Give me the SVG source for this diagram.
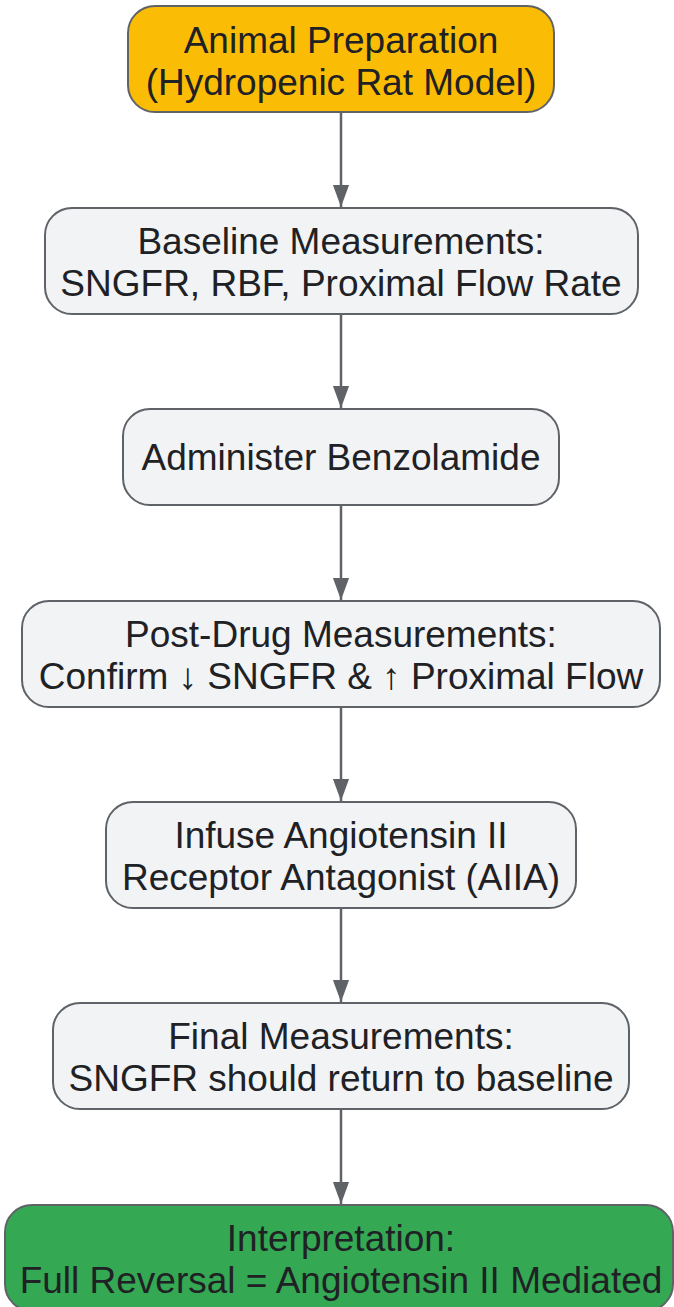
<svg xmlns="http://www.w3.org/2000/svg" width="674" height="1307" viewBox="0 0 674 1307">
<style>
.box{fill:#f1f3f4;stroke:#5f6368;stroke-width:2}
.t{font-family:"Liberation Sans",Arial,sans-serif;font-size:37px;fill:#202124;text-anchor:middle}
.edge{stroke:#5f6368;stroke-width:2.5;fill:none}
</style>
<defs>
<marker id="ah" markerWidth="22" markerHeight="30" refX="30" refY="11" viewBox="0 0 30 22" markerUnits="userSpaceOnUse" orient="auto">
<path d="M0,0 L30,11 L0,22 Z" fill="#5f6368"/>
</marker>
</defs>
<g id="connectors">
<line class="edge" x1="341" y1="112" x2="341" y2="207" marker-end="url(#ah)"/>
<line class="edge" x1="341" y1="314" x2="341" y2="408" marker-end="url(#ah)"/>
<line class="edge" x1="341" y1="505" x2="341" y2="600" marker-end="url(#ah)"/>
<line class="edge" x1="341" y1="707" x2="341" y2="801" marker-end="url(#ah)"/>
<line class="edge" x1="341" y1="908" x2="341" y2="1002" marker-end="url(#ah)"/>
<line class="edge" x1="341" y1="1109" x2="341" y2="1204" marker-end="url(#ah)"/>
</g>
<g id="n1">
<rect class="box" x="128" y="6" width="426" height="106" rx="27" style="fill:#fbbc05"/>
<text class="t" x="341" y="53">Animal Preparation</text>
<text class="t" x="341" y="95">(Hydropenic Rat Model)</text>
</g>
<g id="n2">
<rect class="box" x="45" y="208" width="593" height="106" rx="27"/>
<text class="t" x="341" y="254">Baseline Measurements:</text>
<text class="t" x="341" y="296">SNGFR, RBF, Proximal Flow Rate</text>
</g>
<g id="n3">
<rect class="box" x="123" y="409" width="436" height="96" rx="27"/>
<text class="t" x="341" y="470">Administer Benzolamide</text>
</g>
<g id="n4">
<rect class="box" x="22" y="601" width="638" height="106" rx="27"/>
<text class="t" x="341" y="647">Post-Drug Measurements:</text>
<text class="t" x="341" y="689">Confirm ↓ SNGFR &amp; ↑ Proximal Flow</text>
</g>
<g id="n5">
<rect class="box" x="106" y="802" width="470" height="106" rx="27"/>
<text class="t" x="341" y="848">Infuse Angiotensin II</text>
<text class="t" x="341" y="890">Receptor Antagonist (AIIA)</text>
</g>
<g id="n6">
<rect class="box" x="53" y="1003" width="576" height="106" rx="27"/>
<text class="t" x="341" y="1049">Final Measurements:</text>
<text class="t" x="341" y="1091">SNGFR should return to baseline</text>
</g>
<g id="n7">
<rect class="box" x="5" y="1205" width="668" height="106" rx="27" style="fill:#34a853"/>
<text class="t" x="341" y="1251">Interpretation:</text>
<text class="t" x="341" y="1293">Full Reversal = Angiotensin II Mediated</text>
</g>
</svg>
